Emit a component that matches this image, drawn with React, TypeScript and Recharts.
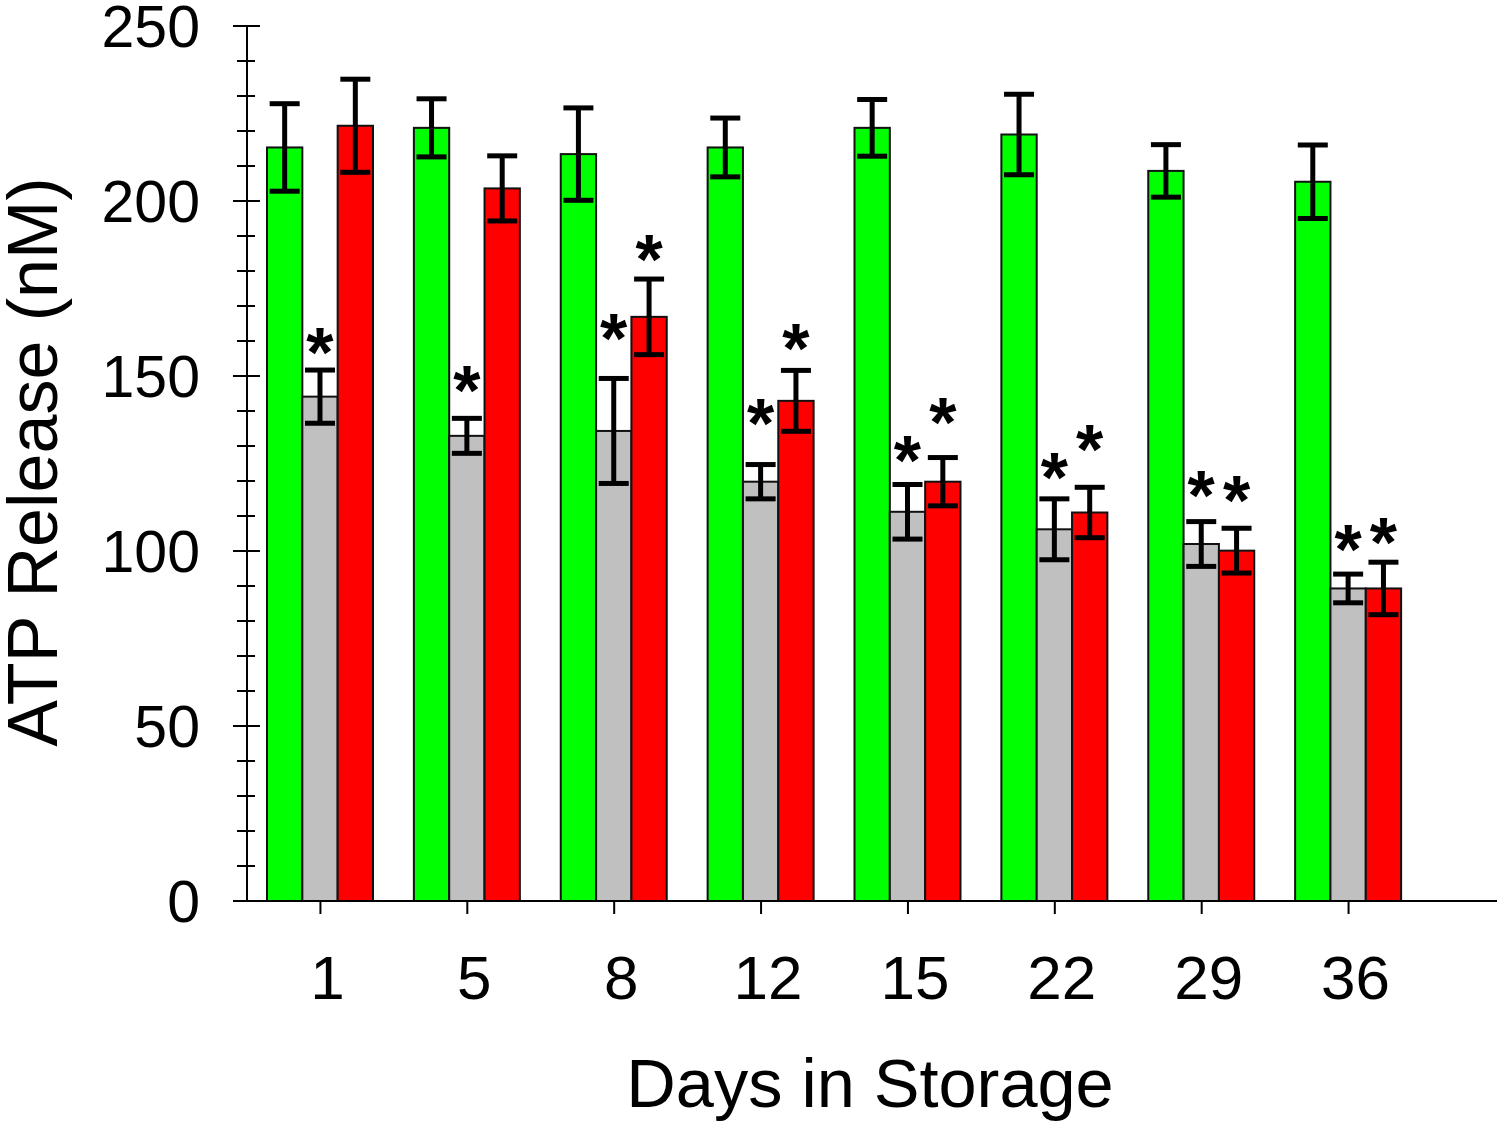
import React from 'react';
import { ComposedChart, Bar, XAxis, YAxis, ErrorBar } from 'recharts';

const days = ['1', '5', '8', '12', '15', '22', '29', '36'];
const green = [215.3, 220.9, 213.4, 215.3, 220.9, 219.0, 208.6, 205.5];
const greenErr = [12.5, 8.3, 13.2, 8.4, 8.1, 11.5, 7.5, 10.5];
const gray = [144.1, 132.9, 134.3, 119.8, 111.2, 106.2, 102.0, 89.3];
const grayErr = [7.6, 5.0, 15.0, 4.9, 7.8, 8.7, 6.4, 4.1];
const red = [221.5, 203.6, 166.9, 142.9, 119.8, 111.0, 100.1, 89.3];
const redErr = [13.3, 9.3, 10.8, 8.7, 6.9, 7.2, 6.4, 7.5];
// significance asterisk positions (in nM units)
const grayStar: (number | null)[] = [161.0, 150.1, 165.0, 140.6, 130.1, 125.3, 120.1, 104.6];
const redStar: (number | null)[] = [null, null, 187.4, 162.0, 141.0, 133.1, 118.6, 106.7];
const yTicks = [0, 10, 20, 30, 40, 50, 60, 70, 80, 90, 100, 110, 120, 130, 140, 150, 160, 170, 180, 190, 200, 210, 220, 230, 240, 250];

const data = days.map((d, i) => ({
  day: d,
  green: green[i],
  greenErr: greenErr[i],
  gray: gray[i],
  grayErr: grayErr[i],
  red: red[i],
  redErr: redErr[i],
}));

const FONT = '"Liberation Sans", Arial, sans-serif';
const STAR_FS = 70;

const YTick = (props: any) => {
  const { x, y, payload } = props;
  const v = payload.value;
  const major = v % 50 === 0;
  return (
    <g>
      <line x1={major ? x - 14 : x - 10} x2={major ? x + 13 : x + 8} y1={y} y2={y} stroke="#000" strokeWidth={2} />
      {major && (
        <text x={x - 47} y={y + 21} textAnchor="end" fontSize={59} fontFamily={FONT} fill="#000">
          {v}
        </text>
      )}
    </g>
  );
};

const XTick = (props: any) => {
  const { x, y, payload } = props;
  return (
    <g>
      <line x1={x} x2={x} y1={y} y2={y + 13} stroke="#000" strokeWidth={2} />
      <text x={x + 7} y={y + 98} textAnchor="middle" fontSize={62} fontFamily={FONT} fill="#000">
        {payload.value}
      </text>
    </g>
  );
};

const makeShape = (values: number[], stars: (number | null)[] | null) => (props: any) => {
  const { x, y, width, height, fill, index } = props;
  let star: React.ReactNode = null;
  if (stars && stars[index] != null && height > 0) {
    const base = y + height;
    const ppu = height / values[index];
    const cy = base - (stars[index] as number) * ppu;
    star = (
      <text x={x + width / 2} y={cy + 0.56 * STAR_FS} textAnchor="middle" fontSize={STAR_FS} fontWeight="bold" fontFamily={FONT} fill="#000">
        *
      </text>
    );
  }
  return (
    <g>
      <rect x={x} y={y} width={width} height={height} fill={fill} stroke="#111" strokeWidth={2} />
      {star}
    </g>
  );
};

export default function App() {
  return (
    <div style={{ position: 'absolute', left: 0, top: 0, width: 1500, height: 1123, background: '#fff' }}>
      <ComposedChart
        width={1500}
        height={1123}
        data={data}
        margin={{ top: 26, right: 3, bottom: 0, left: 0 }}
        barGap={0}
        barSize={35.33}
        style={{ overflow: 'visible' }}
      >
        <XAxis
          dataKey="day"
          height={222}
          padding={{ left: 0, right: 75 }}
          tickLine={false}
          tickSize={0}
          tickMargin={0}
          axisLine={{ stroke: '#000', strokeWidth: 2 }}
          tick={<XTick />}
          interval={0}
        />
        <YAxis
          width={247}
          domain={[0, 250]}
          ticks={yTicks}
          interval={0}
          tickLine={false}
          tickSize={0}
          tickMargin={0}
          axisLine={{ stroke: '#000', strokeWidth: 2 }}
          tick={<YTick />}
        />
        <Bar dataKey="green" fill="#00ff00" isAnimationActive={false} shape={makeShape(green, null)}>
          <ErrorBar dataKey="greenErr" width={15} stroke="#000" strokeWidth={5} isAnimationActive={false} />
        </Bar>
        <Bar dataKey="gray" fill="#c0c0c0" isAnimationActive={false} shape={makeShape(gray, grayStar)}>
          <ErrorBar dataKey="grayErr" width={15} stroke="#000" strokeWidth={5} isAnimationActive={false} />
        </Bar>
        <Bar dataKey="red" fill="#ff0000" isAnimationActive={false} shape={makeShape(red, redStar)}>
          <ErrorBar dataKey="redErr" width={15} stroke="#000" strokeWidth={5} isAnimationActive={false} />
        </Bar>
        <text x={870} y={1107} textAnchor="middle" fontSize={68.5} fontFamily={FONT} fill="#000">
          Days in Storage
        </text>
        <text
          x={57}
          y={462}
          textAnchor="middle"
          fontSize={70}
          fontFamily={FONT}
          fill="#000"
          transform="rotate(-90, 57, 462)"
        >
          ATP Release (nM)
        </text>
      </ComposedChart>
    </div>
  );
}
